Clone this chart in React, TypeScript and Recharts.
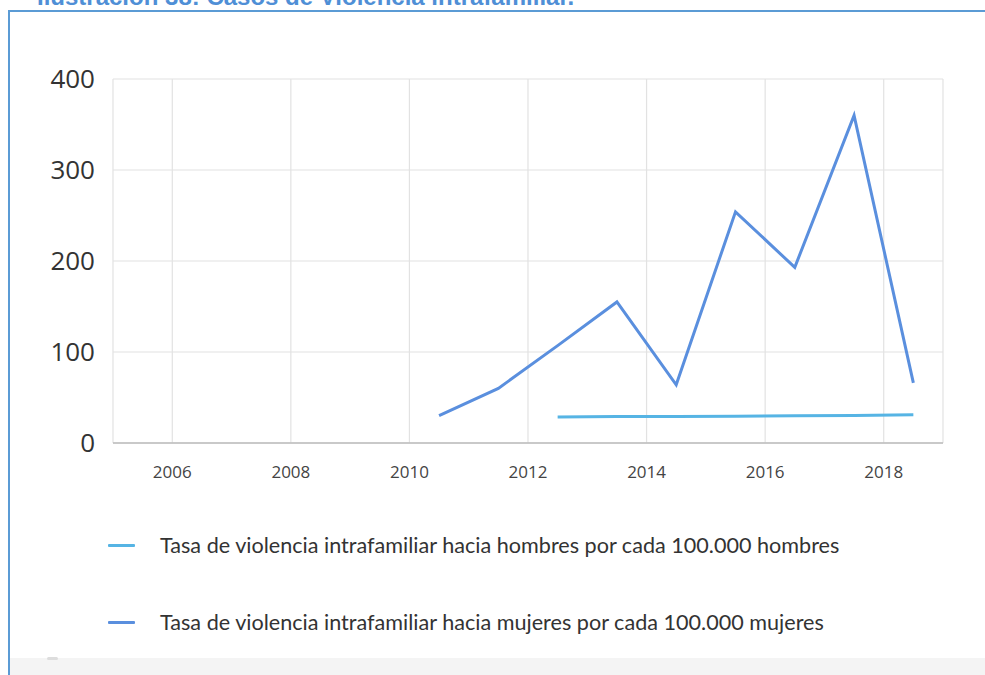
import { LineChart, Line, XAxis, YAxis, CartesianGrid, Legend } from 'recharts';

// Casos de violencia intrafamiliar, tasas por 100.000 habitantes
const years = [2010, 2011, 2012, 2013, 2014, 2015, 2016, 2017, 2018];
const hombres = [null, null, 28.5, 29, 29, 29.5, 30, 30.3, 31];
const mujeres = [30, 60, 107, 155, 64, 254, 193, 360, 66];
const xTicks = [2006, 2008, 2010, 2012, 2014, 2016, 2018];
const yTicks = [0, 100, 200, 300, 400];

const labelHombres = 'Tasa de violencia intrafamiliar hacia hombres por cada 100.000 hombres';
const labelMujeres = 'Tasa de violencia intrafamiliar hacia mujeres por cada 100.000 mujeres';

const COLOR_H = '#56B4E4';
const COLOR_M = '#5A8FDE';
const FONT = '"Open Sans", "Noto Sans", sans-serif';

// points sit in the middle of each year period
const data = years.map((y, i) => ({ year: y + 0.5, hombres: hombres[i], mujeres: mujeres[i] }));

const LegendBox = ({ payload }: any) => (
  <div style={{ fontFamily: 'Lato, "Open Sans", sans-serif' }}>
    {(payload || []).map((p: any, i: number) => (
      <div key={p.value} style={{ display: 'flex', alignItems: 'center', height: 30, marginBottom: i === 0 ? 47 : 0 }}>
        <div style={{ width: 27, height: 3, background: p.color, marginRight: 25, borderRadius: 1 }} />
        <span style={{ color: '#333', fontSize: 21.6 }}>{p.value}</span>
      </div>
    ))}
  </div>
);

export default function App() {
  return (
    <div style={{ position: 'absolute', top: 0, left: 0, width: 985, height: 675, overflow: 'hidden', background: '#fff' }}>
      <div style={{ position: 'absolute', top: -17, left: 37, color: '#4F8FD6', fontWeight: 700, fontSize: 24, fontFamily: '"Liberation Sans", Arial, sans-serif', whiteSpace: 'nowrap' }}>
        Ilustración 38:  Casos de Violencia intrafamiliar.
      </div>
      <div style={{ position: 'absolute', top: 10, left: 8, right: -4, bottom: -4, border: '2px solid #5B9BD5' }} />
      <div style={{ position: 'absolute', top: 658, left: 10, right: 0, height: 17, background: '#F4F4F4' }} />
      <div style={{ position: 'absolute', top: 657, left: 47, width: 11, height: 3, background: '#ddd', borderRadius: 2 }} />

      <div style={{ position: 'absolute', top: 0, left: 0 }}>
        <LineChart width={985} height={675} data={data} margin={{ top: 79, right: 42, left: 13, bottom: 202 }}>
          <CartesianGrid stroke="#E2E2E2" strokeWidth={1.2} />
          <XAxis
            dataKey="year"
            type="number"
            domain={[2005, 2019]}
            ticks={xTicks}
            axisLine={{ stroke: '#BDBDBD', strokeWidth: 1.5 }}
            tickLine={false}
            tickSize={0}
            tickMargin={23}
            height={30}
            tick={{ fill: '#444', fontSize: 17, fontFamily: FONT }}
          />
          <YAxis
            domain={[0, 400]}
            ticks={yTicks}
            axisLine={false}
            tickLine={false}
            tickSize={0}
            tickMargin={18}
            width={100}
            tick={{ fill: '#333', fontSize: 26, fontFamily: FONT }}
          />
          <Legend
            layout="vertical"
            align="center"
            verticalAlign="middle"
            wrapperStyle={{ top: 530, left: 108, width: 850 }}
            content={<LegendBox />}
          />
          <Line name={labelHombres} dataKey="hombres" stroke={COLOR_H} strokeWidth={3} dot={false} isAnimationActive={false} />
          <Line name={labelMujeres} dataKey="mujeres" stroke={COLOR_M} strokeWidth={3} dot={false} isAnimationActive={false} />
        </LineChart>
      </div>
    </div>
  );
}
